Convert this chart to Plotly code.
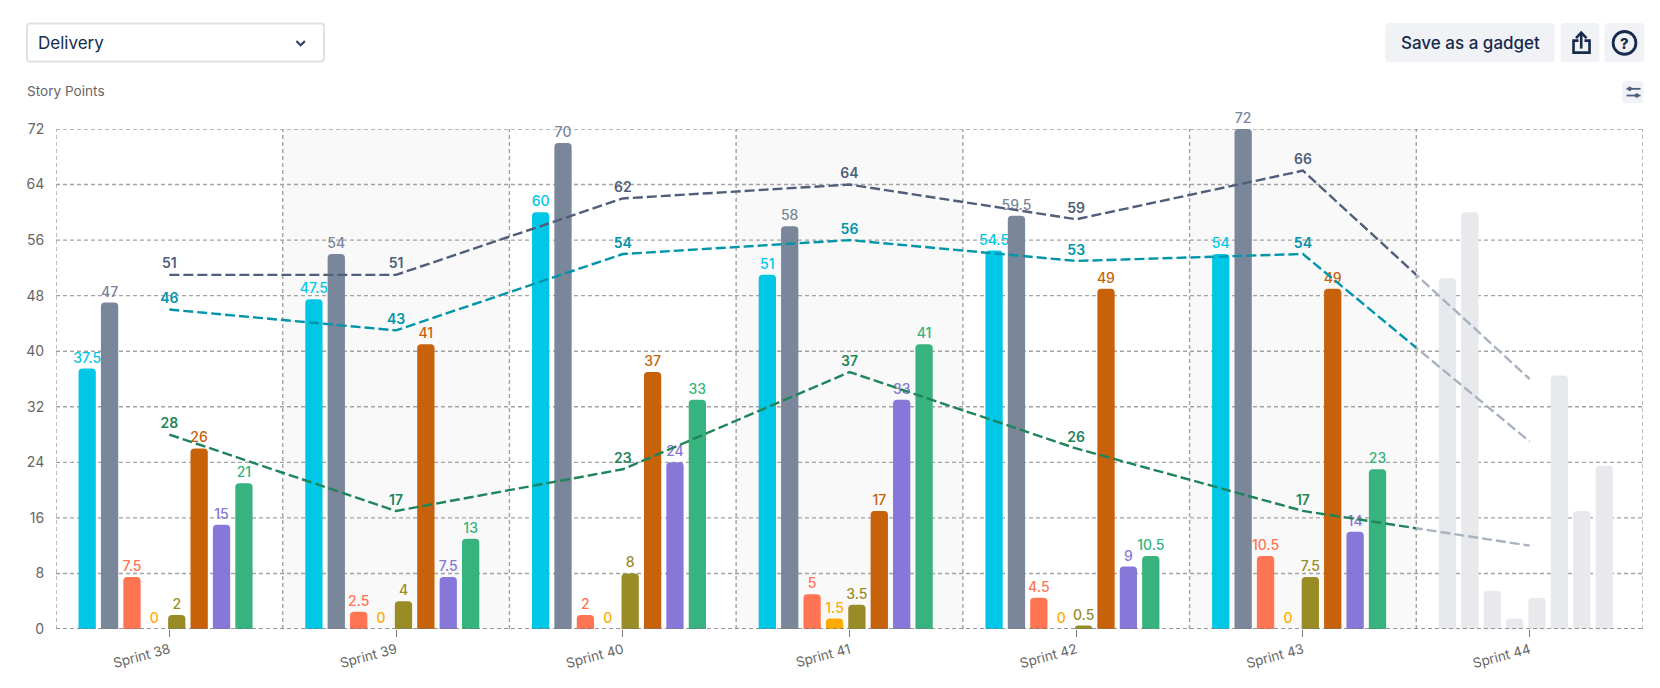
import plotly.graph_objects as go

sprints = ["Sprint 38", "Sprint 39", "Sprint 40", "Sprint 41", "Sprint 42", "Sprint 43", "Sprint 44"]
cyan_vals = [37.5, 47.5, 60, 51, 54.5, 54, 50.5]
slate_vals = [47, 54, 70, 58, 59.5, 72, 60]
red_vals = [7.5, 2.5, 2, 5, 4.5, 10.5, 5.5]
amber_vals = [0, 0, 0, 1.5, 0, 0, 1.5]
olive_vals = [2, 4, 8, 3.5, 0.5, 7.5, 4.5]
burnt_vals = [26, 41, 37, 17, 49, 49, 36.5]
purple_vals = [15, 7.5, 24, 33, 9, 14, 17]
green_vals = [21, 13, 33, 41, 10.5, 23, 23.5]
line_dark = [51, 51, 62, 64, 59, 66, 36]
line_teal = [46, 43, 54, 56, 53, 54, 27]
line_green = [28, 17, 23, 37, 26, 17, 12]
y_ticks = [0, 8, 16, 24, 32, 40, 48, 56, 64, 72]

bar_series = [
    (cyan_vals, "#00C7E6"), (slate_vals, "#7A869A"), (red_vals, "#FF7452"), (amber_vals, "#FFAB00"),
    (olive_vals, "#998C26"), (burnt_vals, "#C7620A"), (purple_vals, "#8777D9"), (green_vals, "#36B37E"),
]
line_series = [(line_dark, "#505F79"), (line_teal, "#0095AA"), (line_green, "#1F845A")]

FONT = "Inter"
NAVY = "#172B4D"
L, R, T, B = 56.0, 1643.5, 128.5, 629.0
BAND = (R - L) / 7
xp = lambda px: (px - L) / (R - L)
yp = lambda py: (B - py) / (B - T)

fig = go.Figure()
bw = 17.3 / BAND
step = 22.4 / BAND
start = -82.2 / BAND - bw / 2
for i, (vals, color) in enumerate(bar_series):
    fig.add_trace(go.Bar(
        x=sprints, y=vals, width=bw, offset=start + i * step,
        marker=dict(color=[color] * 6 + ["#E8E9ED"], line_width=0),
        text=[f"{v:g}" for v in vals[:6]] + [""],
        textposition="outside", cliponaxis=False, constraintext="none",
        textfont=dict(family=FONT, size=14, color=color, weight=500), showlegend=False, hoverinfo="skip",
    ))
LINE_W = 2.4
DASH = "10px,4px"
for vals, color in line_series:
    # coloured up to the Sprint 43/44 boundary, clipped by the x2 axis
    fig.add_trace(go.Scatter(x=sprints, y=vals, xaxis="x2", yaxis="y2", mode="lines",
                             line=dict(color=color, width=LINE_W, dash=DASH), showlegend=False, hoverinfo="skip"))
    # grey in the unfinished sprint, clipped by the x3 axis
    fig.add_trace(go.Scatter(x=sprints, y=vals, xaxis="x3", yaxis="y3", mode="lines",
                             line=dict(color="#A9B2C0", width=LINE_W, dash=DASH), showlegend=False, hoverinfo="skip"))
    fig.add_trace(go.Scatter(x=sprints[:6], y=vals[:6], mode="text+markers", text=[str(v) for v in vals[:6]],
                             textposition="top center", cliponaxis=False,
                             marker=dict(size=3, opacity=0),
                             textfont=dict(family=FONT, size=14, color=color, weight=600),
                             showlegend=False, hoverinfo="skip"))

shapes = []
GRID = dict(color="#A3A3A3", width=1.4, dash="4px,3px")
for i in range(7):
    if i % 2 == 1 and i < 6:
        shapes.append(dict(type="rect", xref="x", yref="y", x0=i - 0.5, x1=i + 0.5, y0=0, y1=72,
                           fillcolor="rgba(0,0,0,0.025)", line_width=0, layer="below"))
for i in range(8):
    shapes.append(dict(type="line", xref="x", yref="y", x0=i - 0.5, x1=i - 0.5, y0=0, y1=72, line=GRID, layer="below"))
for v in y_ticks[1:]:
    shapes.append(dict(type="line", xref="x", yref="y", x0=-0.5, x1=6.5, y0=v, y1=v, line=GRID, layer="below"))
shapes.append(dict(type="line", xref="x", yref="y", x0=-0.5, x1=6.5, y0=0, y1=0,
                   line=dict(color="#777777", width=1.5, dash="4px,3px"), layer="above"))


def rrect(x0, y0, x1, y1, r, fill, line=None):
    p = (f"M {xp(x0 + r)} {yp(y0)} L {xp(x1 - r)} {yp(y0)} Q {xp(x1)} {yp(y0)} {xp(x1)} {yp(y0 + r)} "
         f"L {xp(x1)} {yp(y1 - r)} Q {xp(x1)} {yp(y1)} {xp(x1 - r)} {yp(y1)} "
         f"L {xp(x0 + r)} {yp(y1)} Q {xp(x0)} {yp(y1)} {xp(x0)} {yp(y1 - r)} "
         f"L {xp(x0)} {yp(y0 + r)} Q {xp(x0)} {yp(y0)} {xp(x0 + r)} {yp(y0)} Z")
    return dict(type="path", xref="paper", yref="paper", path=p, fillcolor=fill, line=line or dict(width=0))


def poly(pts, color, width):
    p = "M " + " L ".join(f"{xp(x)} {yp(y)}" for x, y in pts)
    return dict(type="path", xref="paper", yref="paper", path=p, line=dict(color=color, width=width))


shapes += [
    rrect(27, 23, 324, 61, 3, "#FFFFFF", dict(color="#DFE1E6", width=2)),
    poly([(296.5, 40.5), (300.7, 44.7), (305, 40.5)], "#344563", 2.2),
    rrect(1385.7, 22.3, 1555, 61.7, 4, "#F1F2F5"),
    rrect(1561, 22.3, 1600, 61.7, 4, "#F1F2F5"),
    rrect(1605, 22.3, 1645, 61.7, 4, "#F1F2F5"),
    rrect(1622.7, 80.7, 1644, 102.7, 3, "#F1F2F5"),
    poly([(1579, 40), (1574, 40), (1574, 52), (1590, 52), (1590, 40), (1585, 40)], NAVY, 2.6),
    poly([(1581.7, 48), (1581.7, 32)], NAVY, 2.6),
    poly([(1576.5, 37.5), (1581.7, 32), (1587, 37.5)], NAVY, 2.6),
    dict(type="circle", xref="paper", yref="paper", x0=xp(1613.6), x1=xp(1636.4), y0=yp(53.7), y1=yp(30.9),
         line=dict(color=NAVY, width=2.8), fillcolor="rgba(0,0,0,0)"),
    poly([(1627, 88.3), (1641, 88.3)], "#505F79", 1.8),
    poly([(1627, 95), (1641, 95)], "#505F79", 1.8),
    dict(type="circle", xref="paper", yref="paper", x0=xp(1628.5), x1=xp(1632), y0=yp(90), y1=yp(86.5),
         line=dict(color="#505F79", width=1), fillcolor="#505F79"),
    dict(type="circle", xref="paper", yref="paper", x0=xp(1635.5), x1=xp(1639), y0=yp(96.7), y1=yp(93.2),
         line=dict(color="#505F79", width=1), fillcolor="#505F79"),
]


def note(text, x, y, size, color, anchor="left", weight=400):
    return dict(text=text, xref="paper", yref="paper", x=xp(x), y=yp(y), xanchor=anchor, yanchor="middle",
                showarrow=False, font=dict(family=FONT, size=size, color=color, weight=weight))


annotations = [
    note("Delivery", 36, 42, 17, NAVY),
    note("Save as a gadget", 1470.5, 42.5, 17, NAVY, "center", 500),
    note("?", 1625, 42.5, 15, NAVY, "center", 800),
    note("Story Points", 24.5, 90.5, 13.6, "#666666"),
]

hidden_x = dict(visible=False, type="category", categoryorder="array", categoryarray=sprints)
hidden_y = dict(visible=False, range=[0, 72], showgrid=False, zeroline=False)
fig.update_layout(
    width=1660, height=688, paper_bgcolor="#FFFFFF", plot_bgcolor="rgba(0,0,0,0)",
    margin=dict(l=L, r=1660 - R, t=T, b=688 - B, pad=0),
    barmode="overlay", barcornerradius=4, shapes=shapes, annotations=annotations,
    font=dict(family=FONT, color="#666666"),
    xaxis=dict(type="category", categoryorder="array", categoryarray=sprints, range=[-0.5, 6.5],
               domain=[0, 1], showgrid=False, zeroline=False, showline=False,
               ticks="outside", ticklen=7, tickwidth=1.2, tickcolor="#777777", tickangle=-15,
               tickfont=dict(family=FONT, size=13.5, color="#666666")),
    xaxis2=dict(hidden_x, range=[-0.5, 5.5], domain=[0, 6 / 7], anchor="y2"),
    xaxis3=dict(hidden_x, range=[5.5, 6.5], domain=[6 / 7, 1], anchor="y3"),
    yaxis=dict(range=[0, 72], tickvals=y_ticks, showgrid=False, zeroline=False, showline=False,
               ticks="outside", ticklen=8, tickcolor="rgba(0,0,0,0)",
               tickfont=dict(family=FONT, size=14, color="#666666")),
    yaxis2=dict(hidden_y, anchor="x2"),
    yaxis3=dict(hidden_y, anchor="x3"),
)
fig.write_html("out.html", post_script="document.body.style.margin='0';", config={"displayModeBar": False})
